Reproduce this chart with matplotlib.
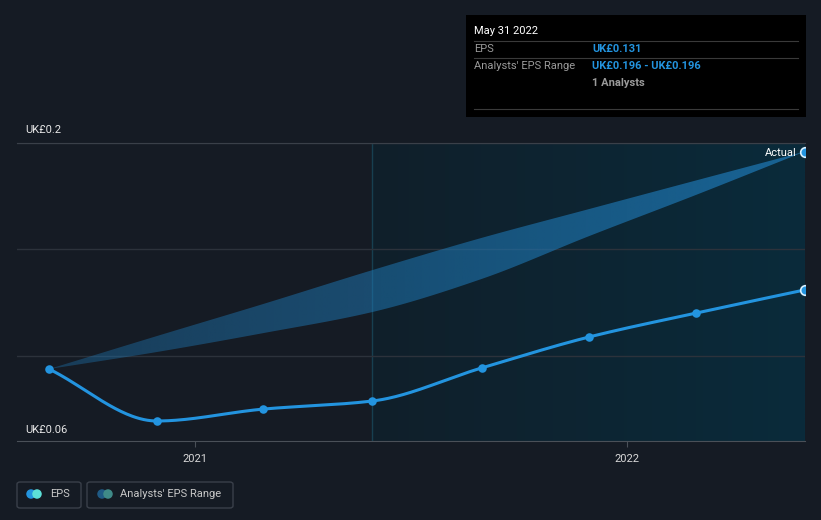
import numpy as np
import matplotlib
matplotlib.use("Agg")
import matplotlib.pyplot as plt
import matplotlib.dates as mdates
from matplotlib.patches import Rectangle, FancyBboxPatch, Ellipse
from datetime import date

plt.rcParams['font.family'] = ['Roboto', 'DejaVu Sans']

# EPS actuals (quarterly, UK£)
eps_dates = [date(2020, 8, 31), date(2020, 11, 30), date(2021, 2, 28), date(2021, 5, 31),
             date(2021, 8, 31), date(2021, 11, 30), date(2022, 2, 28), date(2022, 5, 31)]
eps_values = [0.0938, 0.0694, 0.0750, 0.0788, 0.0943, 0.1089, 0.1201, 0.1310]

# analysts' EPS range band
band_dates = eps_dates
band_low = [0.0938, 0.1018, 0.1107, 0.1206, 0.1361, 0.1563, 0.1756, 0.1960]
band_high = [0.0938, 0.1093, 0.1244, 0.1403, 0.1554, 0.1690, 0.1824, 0.1960]

forecast_start = date(2021, 5, 31)
x_start = date(2020, 8, 4)
x_end = date(2022, 5, 31)
y_ticks = [0.06, 0.1, 0.15, 0.2]
year_ticks = [date(2021, 1, 1), date(2022, 1, 1)]
year_labels = ["2021", "2022"]

BG = '#151b24'
BLUE = '#2394df'
W, H = 821, 520


def monotone(x, y, n=400):
    # monotone cubic (Fritsch-Carlson) used only to draw smooth curves
    x = np.asarray(x, float)
    y = np.asarray(y, float)
    h = np.diff(x)
    d = np.diff(y) / h
    m = np.zeros_like(y)
    m[0], m[-1] = d[0], d[-1]
    for i in range(1, len(y) - 1):
        if d[i - 1] * d[i] <= 0:
            m[i] = 0
        else:
            w1 = 2 * h[i] + h[i - 1]
            w2 = h[i] + 2 * h[i - 1]
            m[i] = (w1 + w2) / (w1 / d[i - 1] + w2 / d[i])
    xs = np.linspace(x[0], x[-1], n)
    idx = np.clip(np.searchsorted(x, xs) - 1, 0, len(x) - 2)
    t = (xs - x[idx]) / h[idx]
    h00 = 2 * t**3 - 3 * t**2 + 1
    h10 = t**3 - 2 * t**2 + t
    h01 = -2 * t**3 + 3 * t**2
    h11 = t**3 - t**2
    ys = h00 * y[idx] + h10 * h[idx] * m[idx] + h01 * y[idx + 1] + h11 * h[idx] * m[idx + 1]
    return xs, ys


fig = plt.figure(figsize=(W / 100, H / 100), dpi=100, facecolor=BG)
ax = fig.add_axes([17 / W, 1 - 441 / H, 788 / W, 298 / H])
ax.set_facecolor(BG)

ex = mdates.date2num(eps_dates)
bx = mdates.date2num(band_dates)
x0, x1 = mdates.date2num(x_start), mdates.date2num(x_end)
fs = mdates.date2num(forecast_start)
ymin, ymax = 0.06, 0.2

# forecast shaded region with a soft gradient
grad = np.linspace(0, 1, 256)
c0 = np.array([16, 31, 42]) / 255
c1 = np.array([10, 43, 59]) / 255
img = (c0[None, :] * (1 - grad[:, None]) + c1[None, :] * grad[:, None])[None, :, :]
ax.imshow(img, extent=[fs, x1, ymin, ymax], aspect='auto', zorder=0.5, interpolation='bilinear')
ax.axvline(fs, color='#173f50', lw=1, zorder=0.8)

for yv in y_ticks[1:]:
    ax.axhline(yv, color='#2c323b', lw=1, zorder=1)

# analysts' range band with gradient opacity
xs, lo = monotone(bx, band_low)
_, hi = monotone(bx, band_high)
poly = ax.fill_between(xs, lo, hi, facecolor='none', edgecolor='none')
rgba = np.zeros((1, 256, 4))
rgba[..., 0] = 31 / 255
rgba[..., 1] = 122 / 255
rgba[..., 2] = 184 / 255
rgba[..., 3] = np.linspace(0.36, 0.72, 256)
im = ax.imshow(rgba, extent=[bx[0], bx[-1], ymin, ymax], aspect='auto', zorder=2,
               interpolation='bilinear')
im.set_clip_path(poly.get_paths()[0], transform=ax.transData)

# EPS line
lx, ly = monotone(ex, eps_values)
ax.plot(lx, ly, color=BLUE, lw=2.2, zorder=3, solid_capstyle='round')
ax.scatter(ex[:-1], eps_values[:-1], s=38, color=BLUE, zorder=4, linewidths=0)
ax.scatter([ex[-1]], [eps_values[-1]], s=48, color=BLUE, edgecolor='#d8f0ff', linewidths=1.2, zorder=4)
ax.scatter([bx[-1]], [band_high[-1]], s=48, color=BLUE, edgecolor='#d8f0ff', linewidths=1.2, zorder=4)
ax.text(bx[-1] - 7, band_high[-1] - 0.0005, "Actual", color='white', fontsize=8, ha='right', va='center', zorder=5)

ax.set_xlim(x0, x1)
ax.set_ylim(ymin, ymax)
for s in ['left', 'right']:
    ax.spines[s].set_visible(False)
ax.spines['top'].set_color('#3a4049')
ax.spines['bottom'].set_color('#4a5058')
ax.set_yticks([])
ax.set_xticks(mdates.date2num(year_ticks))
ax.set_xticklabels(year_labels)
ax.tick_params(axis='x', colors='#4a5058', labelcolor='#d8d8d8', labelsize=8, length=4, pad=5)

# y labels
fig.text(25 / W, 1 - 130 / H, "UK£0.2", color='#e8e8e8', fontsize=8, va='center')
fig.text(25 / W, 1 - 430 / H, "UK£0.06", color='#e8e8e8', fontsize=8, va='center')

# tooltip box
fig.patches.append(Rectangle((466 / W, 1 - 117 / H), 340 / W, 102 / H, transform=fig.transFigure,
                             facecolor='black', edgecolor='none', zorder=5))
for yy in [41, 58, 109]:
    fig.add_artist(plt.Line2D([474 / W, 798 / W], [1 - yy / H] * 2, color='#3a3a3a', lw=0.8, zorder=6))
fig.text(474 / W, 1 - 31 / H, "May 31 2022", color='white', fontsize=8, va='center', zorder=7)
fig.text(474 / W, 1 - 49 / H, "EPS", color='#9a9a9a', fontsize=8, va='center', zorder=7)
fig.text(592 / W, 1 - 49 / H, "UK£0.131", color=BLUE, fontsize=8, fontweight='bold', va='center', zorder=7)
fig.text(474 / W, 1 - 66 / H, "Analysts' EPS Range", color='#9a9a9a', fontsize=8, va='center', zorder=7)
fig.text(592 / W, 1 - 66 / H, "UK£0.196 - UK£0.196", color=BLUE, fontsize=8, fontweight='bold', va='center', zorder=7)
fig.text(592 / W, 1 - 83 / H, "1 Analysts", color='#9a9a9a', fontsize=8, fontweight='bold', va='center', zorder=7)

# legend boxes
for bx0, bw in [(17, 64), (87, 146)]:
    fig.patches.append(FancyBboxPatch((bx0 / W, 1 - 508 / H), bw / W, 26 / H,
                                      boxstyle='round,pad=0,rounding_size=0.004', transform=fig.transFigure,
                                      facecolor='none', edgecolor='#3a404a', lw=1))
for cx, col in [(31, BLUE), (37, '#5ce0d8'), (102, '#1f5a85'), (108, '#3f8a88')]:
    fig.patches.append(Ellipse((cx / W, 1 - 494 / H), 9.5 / W, 9.5 / H, transform=fig.transFigure,
                               facecolor=col, edgecolor='none'))
fig.text(50 / W, 1 - 494 / H, "EPS", color='#c8c8c8', fontsize=8, va='center')
fig.text(120 / W, 1 - 494 / H, "Analysts' EPS Range", color='#c8c8c8', fontsize=8, va='center')

fig.savefig("out.png", dpi=100, facecolor=BG)
